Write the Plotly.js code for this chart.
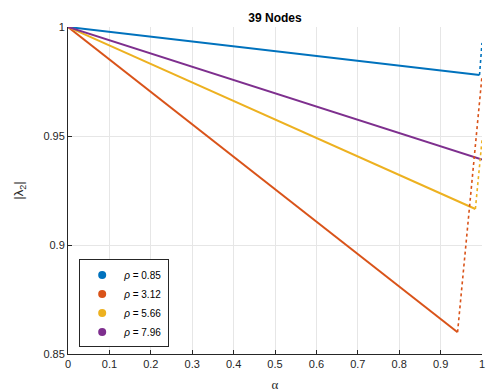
<!DOCTYPE html>
<html>
<head>
<meta charset="utf-8">
<script src="https://cdn.plot.ly/plotly-3.0.1.min.js"></script>
<style>html,body{margin:0;padding:0;background:#fff;}#chart{width:488px;height:392px;}</style>
</head>
<body>
<div id="chart"></div>
<script>
// Series: solid segment (start, end) and dotted jump to alpha = 1
const seriesNames = ['0.85', '3.12', '5.66', '7.96'];
const seriesColors = ['#0072BD', '#D95319', '#EDB120', '#7E2F8E'];
const solidX = [[0, 0.994], [0, 0.941], [0, 0.984], [0, 1.0]];
const solidY = [[1, 0.978], [1, 0.860], [1, 0.9165], [1, 0.9392]];
const dotX = [[0.994, 1.0], [0.941, 1.0], [0.984, 1.0], []];
const dotY = [[0.978, 0.9927], [0.860, 0.9775], [0.9165, 0.948], []];
const xTicks = [0, 0.1, 0.2, 0.3, 0.4, 0.5, 0.6, 0.7, 0.8, 0.9, 1];
const yTicks = [0.85, 0.9, 0.95, 1];
const yTickText = ['0.85', '0.9', '0.95', '1'];

const traces = [];
for (let i = 0; i < seriesNames.length; i++) {
  traces.push({x: solidX[i], y: solidY[i], mode: 'lines', line: {color: seriesColors[i], width: 2}, showlegend: false, hoverinfo: 'skip'});
}
for (let i = 0; i < seriesNames.length; i++) {
  if (dotX[i].length) traces.push({x: dotX[i], y: dotY[i], mode: 'lines', line: {color: seriesColors[i], width: 1.6, dash: 'dot'}, showlegend: false, hoverinfo: 'skip'});
}
for (let i = 0; i < seriesNames.length; i++) {
  traces.push({x: [null], y: [null], mode: 'markers', marker: {color: seriesColors[i], size: 8}, name: '<i>ρ</i> = ' + seriesNames[i], showlegend: true});
}

const tickFont = {family: 'Liberation Sans, Arial, sans-serif', size: 11, color: '#262626'};
const layout = {
  width: 488, height: 392,
  margin: {l: 68, r: 6, t: 27, b: 38},
  paper_bgcolor: '#fff', plot_bgcolor: '#fff',
  title: {text: '<b>39 Nodes</b>', font: {family: 'Liberation Sans, Arial, sans-serif', size: 12, color: '#000'}, x: 0.5, xref: 'paper', y: 0.955, yanchor: 'middle'},
  xaxis: {range: [0, 1], tickvals: xTicks, ticktext: xTicks.map(String), ticks: 'inside', ticklen: 4, tickcolor: '#262626',
    showline: true, linecolor: '#262626', linewidth: 1, showgrid: true, gridcolor: '#e6e6e6', zeroline: false,
    tickfont: tickFont, title: {text: 'α', font: {family: 'Liberation Serif, serif', size: 13, color: '#262626'}, standoff: 11}},
  yaxis: {range: [0.85, 1], tickvals: yTicks, ticktext: yTickText, ticks: 'inside', ticklen: 4, tickcolor: '#262626',
    showline: true, linecolor: '#262626', linewidth: 1, showgrid: true, gridcolor: '#e6e6e6', zeroline: false,
    tickfont: tickFont, title: {text: '|λ<sub>2</sub>|', font: {family: 'Liberation Sans, Arial, sans-serif', size: 13, color: '#262626'}, standoff: 16}},
  legend: {x: 0.027, y: 0.02, xanchor: 'left', yanchor: 'bottom', bgcolor: '#fff', bordercolor: '#262626', borderwidth: 1,
    font: {family: 'Liberation Sans, Arial, sans-serif', size: 10, color: '#000'}, tracegroupgap: 0, itemwidth: 34},
  showlegend: true
};
Plotly.newPlot('chart', traces, layout, {staticPlot: true, displayModeBar: false});
</script>
</body>
</html>
